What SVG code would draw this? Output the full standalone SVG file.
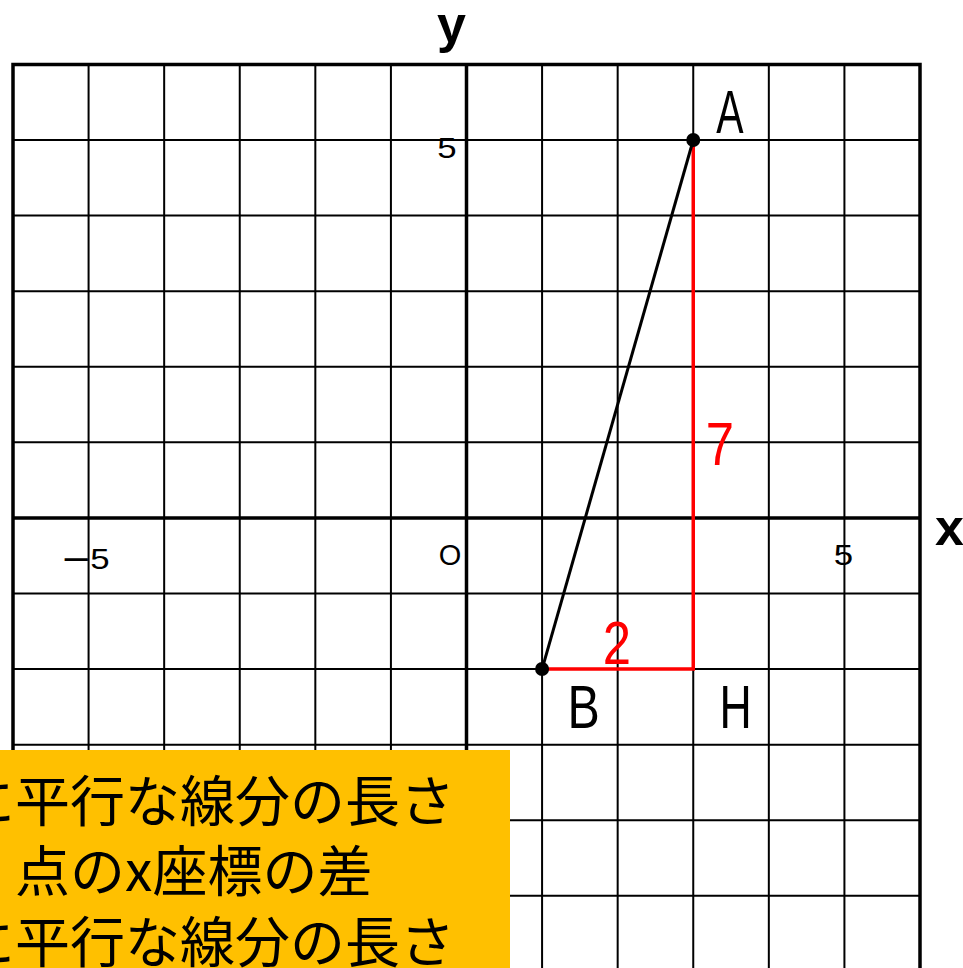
<svg xmlns="http://www.w3.org/2000/svg" width="963" height="968" viewBox="0 0 963 968">
<style>
.grid{stroke:#000;stroke-width:2;fill:none}
.axis{stroke:#000;stroke-width:3.5;fill:none}
.tick{font-family:"Liberation Sans",Arial,sans-serif;font-size:29px;fill:#000}
.ax{font-family:"Liberation Sans",Arial,sans-serif;font-size:52px;font-weight:bold;fill:#000}
.lbl{font-family:"Liberation Sans",Arial,sans-serif;font-size:62px;fill:#000}
.red{fill:#ff0000}
.jp{font-family:"Noto Sans CJK JP","Noto Sans CJK SC",sans-serif;font-size:55px;fill:#000}
</style>
<rect x="0" y="0" width="963" height="968" fill="#fff"/>
<g id="grid">
<path class="grid" d="M88.58 64.4V968M164.17 64.4V968M239.75 64.4V968M315.33 64.4V968M390.92 64.4V968M542.08 64.4V968M617.67 64.4V968M693.25 64.4V968M768.83 64.4V968M844.42 64.4V968M13 139.98H920M13 215.57H920M13 291.15H920M13 366.73H920M13 442.32H920M13 593.48H920M13 669.07H920M13 744.65H920M13 820.23H920M13 895.82H920"/>
<path class="axis" d="M13 968V64.4H920V968M466.5 64.4V968M13 517.9H920"/>
</g>
<g id="axis-labels">
<text class="ax" x="437" y="42">y</text>
<text class="ax" x="935" y="545">x</text>
<text class="tick" transform="translate(447,158) scale(1.2,1)" text-anchor="middle">5</text>
<text class="tick" x="450" y="565" text-anchor="middle">O</text>
<text class="tick" transform="translate(86,569) scale(1.2,1)" text-anchor="middle"><tspan style="font-size:40px" dy="4">−</tspan><tspan dy="-4">5</tspan></text>
<text class="tick" transform="translate(843.5,565) scale(1.2,1)" text-anchor="middle">5</text>
</g>
<g id="note">
<rect x="0" y="750" width="510" height="218" fill="#ffc000"/>
<text class="jp" x="-40" y="821">に平行な線分の長さ</text>
<text class="jp" x="15" y="891">点のx座標の差</text>
<text class="jp" x="-40" y="962">に平行な線分の長さ</text>
</g>
<g id="connectors">
<path d="M693.25 140V669.07H542.08" stroke="#ff0000" stroke-width="3.5" fill="none"/>
<path d="M693.25 140L542.08 669.07" stroke="#000" stroke-width="3" fill="none"/>
</g>
<g id="pointA">
<circle cx="693.25" cy="140" r="7" fill="#000"/>
<text class="lbl" transform="translate(730,133) scale(0.66,1)" text-anchor="middle">A</text>
</g>
<g id="pointB">
<circle cx="542.08" cy="669.07" r="7" fill="#000"/>
<text class="lbl" transform="translate(583.5,728) scale(0.78,1)" text-anchor="middle">B</text>
</g>
<g id="pointH">
<text class="lbl" transform="translate(735.5,728) scale(0.72,1)" text-anchor="middle">H</text>
</g>
<g id="len-labels">
<text class="lbl red" transform="translate(617,664) scale(0.82,1)" text-anchor="middle">2</text>
<text class="lbl red" transform="translate(720,465) scale(0.82,1)" text-anchor="middle">7</text>
</g>
</svg>
